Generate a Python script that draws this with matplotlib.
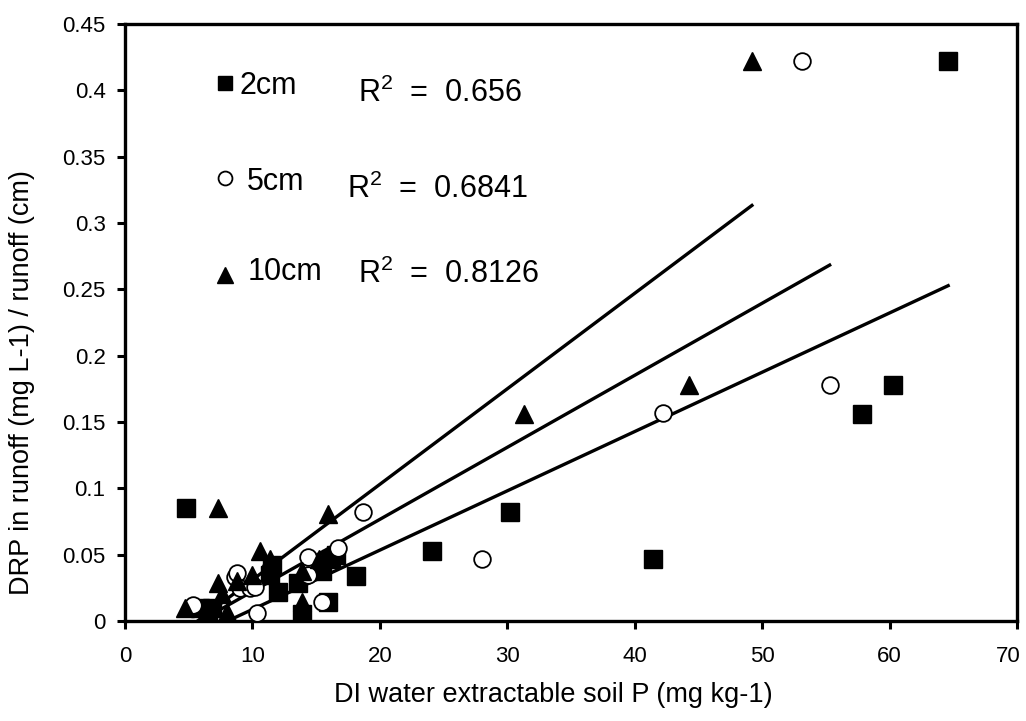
import numpy as np
import matplotlib
matplotlib.use('Agg')
import matplotlib.pyplot as plt
from matplotlib.transforms import ScaledTranslation

plt.rcParams['font.family'] = ['Liberation Sans', 'DejaVu Sans']
plt.rcParams['mathtext.fontset'] = 'custom'
plt.rcParams['mathtext.rm'] = 'Liberation Sans'

# 2cm depth (squares)
x_2cm = [4.8, 5.9, 6.8, 6.5, 11.4, 11.5, 12.0, 13.6, 13.9, 15.5, 15.9, 16.2, 16.6,
         18.1, 24.1, 30.2, 41.4, 57.8, 60.3, 64.6]
y_2cm = [0.085, 0.010, 0.010, 0.006, 0.035, 0.042, 0.022, 0.029, 0.005, 0.038, 0.014,
         0.047, 0.050, 0.034, 0.053, 0.082, 0.047, 0.156, 0.178, 0.422]

# 5cm depth (open circles)
x_5cm = [5.3, 8.6, 8.8, 9.0, 9.8, 10.2, 10.4, 14.4, 14.4, 15.5, 16.7, 18.7, 28.0,
         42.2, 53.1, 55.3]
y_5cm = [0.012, 0.033, 0.036, 0.025, 0.025, 0.026, 0.006, 0.048, 0.035, 0.014, 0.055,
         0.082, 0.047, 0.157, 0.422, 0.178]

# 10cm depth (triangles)
x_10cm = [4.7, 7.3, 7.3, 7.6, 8.0, 8.8, 10.0, 10.6, 11.4, 11.4, 13.9, 13.9, 15.2,
          15.9, 31.3, 44.3, 49.2]
y_10cm = [0.010, 0.085, 0.029, 0.020, 0.007, 0.030, 0.035, 0.053, 0.047, 0.040, 0.038,
          0.014, 0.047, 0.081, 0.156, 0.178, 0.422]

# trend lines: slope, intercept
slopes = [0.00447, 0.00543, 0.0072]
intercepts = [-0.036, -0.032, -0.041]
labels = ['2cm', '5cm', '10cm']
r2 = ['0.656', '0.6841', '0.8126']

fig = plt.figure(figsize=(10.26, 7.21), dpi=100)
ax = fig.add_axes([0.1218, 0.1387, 0.8694, 0.828])

ax.plot(x_2cm, y_2cm, 's', color='black', ms=12.5, ls='none', zorder=3)
ax.plot(x_5cm, y_5cm, 'o', mfc='white', mec='black', mew=1.3, ms=12, ls='none', zorder=3)
ax.plot(x_10cm, y_10cm, '^', color='black', ms=13, ls='none', zorder=3)

for xs, m, b in zip([x_2cm, x_5cm, x_10cm], slopes, intercepts):
    xl = np.array([min(xs), max(xs)])
    ax.plot(xl, m * xl + b, color='black', lw=2.4, zorder=2)

ax.set_xlim(0, 70)
ax.set_ylim(0, 0.45)
ax.set_xticks(np.arange(0, 71, 10))
ax.set_yticks(np.arange(0, 0.451, 0.05))
ax.set_yticklabels(['0', '0.05', '0.1', '0.15', '0.2', '0.25', '0.3', '0.35', '0.4', '0.45'])
ax.tick_params(direction='out', length=6, width=2.2, labelsize=16)
ax.tick_params(axis='x', pad=12)
ax.tick_params(axis='y', pad=8)
for s in ax.spines.values():
    s.set_linewidth(2.4)

# keep the "70" inside the picture like the original
last = ax.get_xticklabels()[-1]
last.set_transform(last.get_transform() + ScaledTranslation(-9 / 100, 0, fig.dpi_scale_trans))

fig.text(0.539, 0.036, 'DI water extractable soil P (mg kg-1)', fontsize=19.5,
         ha='center', va='center')
fig.text(0.0214, 0.469, 'DRP in runoff (mg L-1) / runoff (cm)', fontsize=19.5,
         ha='center', va='center', rotation=90)

# legend-like annotations
mk_y = [0.901, 0.742, 0.580]
txt_x = [0.128, 0.137, 0.138]
txt_y = [0.883, 0.722, 0.571]
r2_x = [0.261, 0.249, 0.261]
r2_y = [0.869, 0.709, 0.566]
ax.plot([0.112], [mk_y[0]], 's', color='black', ms=10, transform=ax.transAxes, clip_on=False)
ax.plot([0.112], [mk_y[1]], 'o', mfc='white', mec='black', mew=1.3, ms=10, transform=ax.transAxes, clip_on=False)
ax.plot([0.112], [mk_y[2]], '^', color='black', ms=11, transform=ax.transAxes, clip_on=False)
for i in range(3):
    ax.text(txt_x[i], txt_y[i], labels[i], transform=ax.transAxes, fontsize=22, va='baseline')
    ax.text(r2_x[i], r2_y[i], 'R$^{2}$  =  ' + r2[i], transform=ax.transAxes, fontsize=22, va='baseline')

fig.savefig('out.png', dpi=100)
